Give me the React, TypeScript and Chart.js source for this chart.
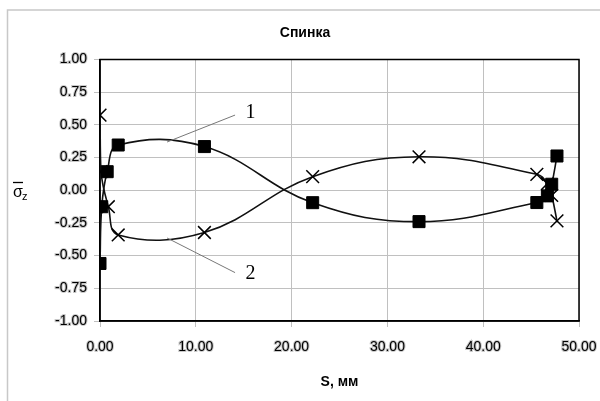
import React, { useEffect, useRef } from 'react';
import { Chart, registerables } from 'chart.js';

Chart.register(...registerables);

const chartTitle = 'Спинка';
const xTitle = 'S, мм';
const series1X = [0, 0.18, 0.75, 1.9, 10.9, 22.2, 33.3, 45.6, 46.7, 47.15, 47.7];
const series1Y = [-0.56, -0.126, 0.142, 0.346, 0.334, -0.095, -0.24, -0.094, -0.043, 0.046, 0.262];
const series2X = [0, 0.1, 0.87, 1.9, 10.9, 22.2, 33.3, 45.6, 46.7, 47.15, 47.7];
const series2Y = [0.575, 0.142, -0.126, -0.342, -0.323, 0.104, 0.256, 0.122, 0.05, -0.04, -0.234];
// leader-line annotations: label, line start (x,y), line end (x,y), text pos (x,y)
const annoLabels = ['1', '2'];
const annoStart = [[7.0, 0.369], [7.0, -0.365]];
const annoEnd = [[14.1, 0.575], [14.1, -0.63]];
const annoText = [[15.2, 0.59], [15.2, -0.64]];

const FONT = '"Liberation Sans", Arial, sans-serif';

const decorPlugin = {
  id: 'decor',
  beforeDatasetsDraw(chart: any) {
    const { ctx, chartArea } = chart;
    ctx.save();
    ctx.strokeStyle = '#000';
    ctx.lineWidth = 1.5;
    ctx.strokeRect(chartArea.left, chartArea.top, chartArea.right - chartArea.left, chartArea.bottom - chartArea.top);
    ctx.restore();
  },
  afterDraw(chart: any) {
    const { ctx, chartArea } = chart;
    const xs = chart.scales.x;
    const ys = chart.scales.y;
    ctx.save();
    // outer frame (left + top)
    ctx.strokeStyle = '#c8c8c8';
    ctx.lineWidth = 1.5;
    ctx.beginPath();
    ctx.moveTo(7.5, 401);
    ctx.lineTo(7.5, 10);
    ctx.lineTo(600, 10);
    ctx.stroke();
    // title
    ctx.fillStyle = '#000';
    ctx.font = `bold 14px ${FONT}`;
    ctx.textAlign = 'center';
    ctx.textBaseline = 'middle';
    ctx.fillText(chartTitle, 305, 33);
    // x title
    ctx.fillText(xTitle, (chartArea.left + chartArea.right) / 2, 382);
    // y title: sigma with overbar and subscript z
    ctx.font = `16px ${FONT}`;
    ctx.textAlign = 'left';
    ctx.textBaseline = 'alphabetic';
    ctx.fillText('σ', 13, 197);
    ctx.font = `11px ${FONT}`;
    ctx.fillText('z', 22, 200);
    ctx.strokeStyle = '#000';
    ctx.lineWidth = 1.3;
    ctx.beginPath();
    ctx.moveTo(13, 182.5);
    ctx.lineTo(23, 182.5);
    ctx.stroke();
    // annotations
    ctx.strokeStyle = '#777';
    ctx.lineWidth = 1;
    ctx.font = `20px "Liberation Serif", "Times New Roman", serif`;
    ctx.fillStyle = '#000';
    ctx.textBaseline = 'middle';
    for (let i = 0; i < annoLabels.length; i++) {
      ctx.beginPath();
      ctx.moveTo(xs.getPixelForValue(annoStart[i][0]), ys.getPixelForValue(annoStart[i][1]));
      ctx.lineTo(xs.getPixelForValue(annoEnd[i][0]), ys.getPixelForValue(annoEnd[i][1]));
      ctx.stroke();
      ctx.fillText(annoLabels[i], xs.getPixelForValue(annoText[i][0]), ys.getPixelForValue(annoText[i][1]));
    }
    ctx.restore();
  },
};

export default function App() {
  const ref = useRef<HTMLCanvasElement>(null);
  useEffect(() => {
    document.body.style.margin = '0';
    const canvas = ref.current!;
    const toPts = (xs: number[], ys: number[]) => xs.map((x, i) => ({ x, y: ys[i] }));
    const chart = new Chart(canvas, {
      type: 'scatter',
      data: {
        datasets: [
          {
            data: toPts(series1X, series1Y),
            showLine: true,
            tension: 0.4,
            borderColor: '#111',
            borderWidth: 1.6,
            pointStyle: 'rect',
            pointRadius: 8.5,
            pointBackgroundColor: '#000',
            pointBorderColor: '#000',
            pointBorderWidth: 1,
          },
          {
            data: toPts(series2X, series2Y),
            showLine: true,
            tension: 0.4,
            borderColor: '#111',
            borderWidth: 1.6,
            pointStyle: 'crossRot',
            pointRadius: 9,
            pointBackgroundColor: '#000',
            pointBorderColor: '#000',
            pointBorderWidth: 1.5,
          },
        ],
      },
      options: {
        responsive: false,
        animation: false,
        devicePixelRatio: 1,
        layout: { padding: { top: 59.5, right: 21, left: 0, bottom: 0 } },
        plugins: { legend: { display: false }, tooltip: { enabled: false }, title: { display: false } },
        scales: {
          x: {
            type: 'linear',
            min: 0,
            max: 50,
            afterFit: (s: any) => { s.height = 80; s.paddingLeft = 0; s.paddingRight = 0; },
            ticks: {
              stepSize: 10,
              callback: (v: any) => Number(v).toFixed(2),
              font: { family: FONT, size: 14 },
              color: '#000',
              textStrokeColor: '#c8c8c8',
              textStrokeWidth: 2,
              padding: 12,
              maxRotation: 0,
            },
            grid: { color: '#c0c0c0', tickLength: 6, tickColor: '#c0c0c0' },
            border: { display: true, color: '#000', width: 1.5 },
          },
          y: {
            min: -1,
            max: 1,
            afterFit: (s: any) => { s.width = 100; s.paddingTop = 0; s.paddingBottom = 0; },
            ticks: {
              stepSize: 0.25,
              callback: (v: any) => Number(v).toFixed(2),
              font: { family: FONT, size: 14 },
              color: '#000',
              textStrokeColor: '#c8c8c8',
              textStrokeWidth: 2,
              padding: 7,
            },
            grid: { color: '#c0c0c0', tickLength: 6, tickColor: '#c0c0c0' },
            border: { display: true, color: '#000', width: 1.5 },
          },
        },
      },
      plugins: [decorPlugin],
    });
    return () => chart.destroy();
  }, []);
  return (
    <div style={{ width: 600, height: 401, background: '#fff' }}>
      <canvas ref={ref} width={600} height={401} />
    </div>
  );
}
